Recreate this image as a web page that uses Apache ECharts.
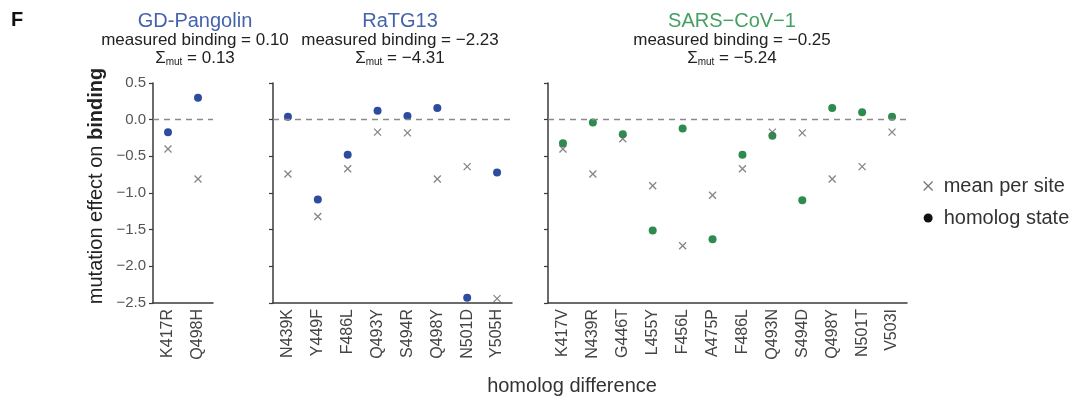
<!DOCTYPE html>
<html>
<head>
<meta charset="utf-8">
<script src="https://cdn.jsdelivr.net/npm/echarts@6/dist/echarts.min.js"></script>
<style>
  html, body { margin: 0; padding: 0; background: #fff; }
  #chart { width: 1078px; height: 399px; }
</style>
</head>
<body>
<div id="chart"></div>
<script>
const FONT = "'Liberation Sans', Arial, sans-serif";

// values
const panelNames = ["GD-Pangolin", "RaTG13", "SARS\u2212CoV\u22121"];
const measuredBinding = ["0.10", "\u22122.23", "\u22120.25"];
const sigmaMut = ["0.13", "\u22124.31", "\u22125.24"];

const pangolinSites = ["K417R", "Q498H"];
const pangolinHomolog = [-0.17, 0.30];
const pangolinMean = [-0.40, -0.81];

const ratSites = ["N439K", "Y449F", "F486L", "Q493Y", "S494R", "Q498Y", "N501D", "Y505H"];
const ratHomolog = [0.04, -1.09, -0.48, 0.12, 0.05, 0.16, -2.43, -0.72];
const ratMean = [-0.74, -1.32, -0.67, -0.17, -0.18, -0.81, -0.64, -2.44];

const sarsSites = ["K417V", "N439R", "G446T", "L455Y", "F456L", "A475P", "F486L", "Q493N", "S494D", "Q498Y", "N501T", "V503I"];
const sarsHomolog = [-0.32, -0.04, -0.20, -1.51, -0.12, -1.63, -0.48, -0.22, -1.10, 0.16, 0.10, 0.04];
const sarsMean = [-0.40, -0.74, -0.26, -0.90, -1.72, -1.03, -0.67, -0.17, -0.18, -0.81, -0.64, -0.17];

const yTicks = { min: -2.5, max: 0.5, interval: 0.5 };

const BLUE = "#2d4c9f";
const GREEN = "#2e8b4e";
const CROSS = "path://M0,0L10,10M10,0L0,10";

const panels = [
  { sites: pangolinSites, homolog: pangolinHomolog, mean: pangolinMean, color: BLUE, titleColor: "#4563ad", left: 153, width: 60, titleX: 195 },
  { sites: ratSites, homolog: ratHomolog, mean: ratMean, color: BLUE, titleColor: "#4563ad", left: 273, width: 239, titleX: 400 },
  { sites: sarsSites, homolog: sarsHomolog, mean: sarsMean, color: GREEN, titleColor: "#45a062", left: 548, width: 359, titleX: 732 },
];

const minus = (s) => s.replace("-", "\u2212");

const chart = echarts.init(document.getElementById("chart"), null, { renderer: "canvas" });

const grid = panels.map((p) => ({ left: p.left, width: p.width, top: 83, height: 220 }));

const xAxis = panels.map((p, i) => ({
  type: "category",
  gridIndex: i,
  data: p.sites,
  boundaryGap: true,
  axisLine: { onZero: false, lineStyle: { color: "#3a3a3a", width: 1.5 } },
  axisTick: { alignWithLabel: true, length: 4, lineStyle: { color: "#3a3a3a", width: 1.2 } },
  axisLabel: { rotate: 90, interval: 0, margin: 6, fontSize: 16, fontFamily: FONT, color: "#444" },
  splitLine: { show: false },
}));

const yAxis = panels.map((p, i) => ({
  type: "value",
  gridIndex: i,
  min: yTicks.min,
  max: yTicks.max,
  interval: yTicks.interval,
  axisLine: { show: true, lineStyle: { color: "#3a3a3a", width: 1.5 } },
  axisTick: { show: true, length: 4, lineStyle: { color: "#3a3a3a", width: 1.2 } },
  axisLabel: {
    show: i === 0,
    margin: 7,
    fontSize: 15,
    fontFamily: FONT,
    color: "#555",
    formatter: (v) => minus(v.toFixed(1)),
  },
  splitLine: { show: false },
}));

const series = [];
panels.forEach((p, i) => {
  series.push({
    name: "homolog state",
    type: "scatter",
    xAxisIndex: i,
    yAxisIndex: i,
    symbol: "circle",
    symbolSize: 8,
    itemStyle: { color: p.color, opacity: 1 },
    data: p.homolog,
    z: 3,
    markLine: {
      silent: true,
      symbol: "none",
      label: { show: false },
      lineStyle: { color: "#8a8a8a", type: [6, 5], width: 1.3 },
      data: [{ yAxis: 0 }],
    },
  });
  series.push({
    name: "mean per site",
    type: "scatter",
    xAxisIndex: i,
    yAxisIndex: i,
    symbol: CROSS,
    symbolSize: 7,
    itemStyle: { color: "transparent", borderColor: "#666", borderWidth: 1.3 },
    data: p.mean,
    z: 4,
  });
});

const graphic = [
  { type: "text", left: 11, top: 10, style: { text: "F", font: "bold 20px " + FONT, fill: "#111" } },
  {
    type: "text",
    x: 96,
    y: 186,
    rotation: Math.PI / 2,
    style: {
      text: "{a|mutation effect on }{b|binding}",
      align: "center",
      verticalAlign: "middle",
      rich: {
        a: { fontSize: 20, fontFamily: FONT, fill: "#222" },
        b: { fontSize: 20, fontFamily: FONT, fontWeight: "bold", fill: "#222" },
      },
    },
  },
  {
    type: "text",
    x: 572,
    y: 386,
    style: { text: "homolog difference", align: "center", verticalAlign: "middle", font: "20px " + FONT, fill: "#333" },
  },
];

panels.forEach((p, i) => {
  graphic.push({
    type: "text",
    x: p.titleX,
    y: 21,
    style: { text: panelNames[i], align: "center", verticalAlign: "middle", font: "20px " + FONT, fill: p.titleColor },
  });
  graphic.push({
    type: "text",
    x: p.titleX,
    y: 40,
    style: { text: "measured binding = " + measuredBinding[i], align: "center", verticalAlign: "middle", font: "17px " + FONT, fill: "#222" },
  });
  graphic.push({
    type: "text",
    x: p.titleX,
    y: 58,
    style: {
      text: "{s|\u03a3}{sub|mut}{s| = " + sigmaMut[i] + "}",
      align: "center",
      verticalAlign: "middle",
      rich: {
        s: { fontSize: 17, fontFamily: FONT, fill: "#222" },
        sub: { fontSize: 10, fontFamily: FONT, fill: "#222", verticalAlign: "bottom", padding: [8, 0, 0, 0] },
      },
    },
  });
});

chart.setOption({
  animation: false,
  backgroundColor: "#fff",
  grid,
  xAxis,
  yAxis,
  series,
  graphic,
  legend: {
    orient: "vertical",
    left: 918,
    top: 171,
    itemGap: 12,
    itemWidth: 9,
    itemHeight: 9,
    textStyle: { fontSize: 20, fontFamily: FONT, color: "#333", padding: [0, 0, 0, 6] },
    data: [
      { name: "mean per site", icon: CROSS, itemStyle: { color: "transparent", borderColor: "#555", borderWidth: 1.3 } },
      { name: "homolog state", icon: "circle", itemStyle: { color: "#111" } },
    ],
  },
});
</script>
</body>
</html>
